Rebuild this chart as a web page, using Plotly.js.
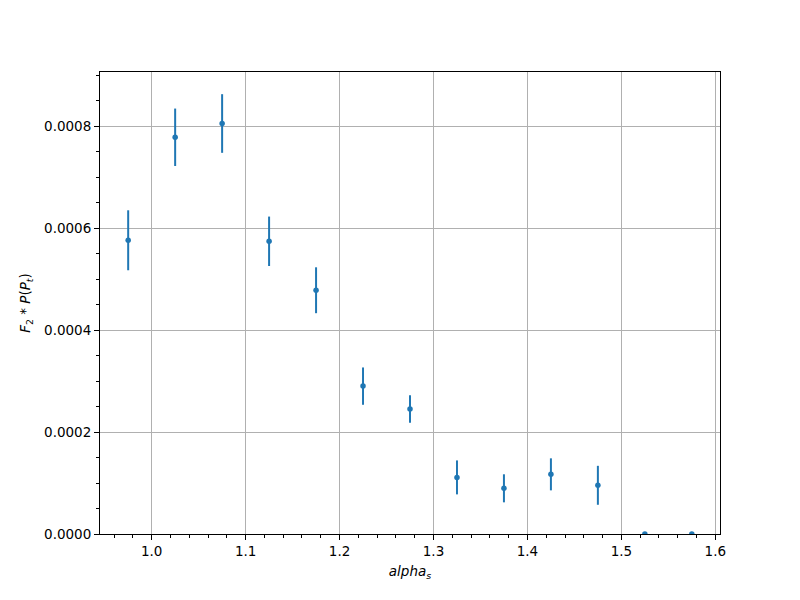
<!DOCTYPE html>
<html>
<head>
<meta charset="utf-8">
<script src="https://cdn.plot.ly/plotly-3.0.1.min.js"></script>
<style>html,body{margin:0;padding:0;background:#fff;}#plot{width:800px;height:600px;}</style>
</head>
<body>
<div id="plot"></div>
<script>
const alphaS = [0.975, 1.025, 1.075, 1.125, 1.175, 1.225, 1.275, 1.325, 1.375, 1.425, 1.475, 1.525, 1.575];
const values = [0.000576, 0.000778, 0.000805, 0.000574, 0.000478, 0.000290, 0.000245, 0.000111, 0.0000896, 0.000117, 0.0000955, 0.0, 0.0];
const errors = [0.0000588, 0.0000563, 0.0000575, 0.0000485, 0.000045, 0.0000366, 0.000027, 0.0000333, 0.0000275, 0.0000314, 0.0000382, 0.0, 0.0];
const xTickVals = [1.0, 1.1, 1.2, 1.3, 1.4, 1.5, 1.6];
const xTickText = ["1.0", "1.1", "1.2", "1.3", "1.4", "1.5", "1.6"];
const yTickVals = [0, 0.0002, 0.0004, 0.0006, 0.0008];
const yTickText = ["0.0000", "0.0002", "0.0004", "0.0006", "0.0008"];

const color = '#1f77b4';
const font = {family: 'DejaVu Sans, sans-serif', size: 13.5, color: '#000'};

const trace = {
  x: alphaS, y: values, type: 'scatter', mode: 'markers',
  marker: {color: color, size: 5.5},
  error_y: {type: 'data', array: errors, visible: true, color: color, thickness: 2, width: 0},
  cliponaxis: true, showlegend: false
};

const axisCommon = {
  showline: true, mirror: true, linecolor: '#000', linewidth: 1,
  ticks: 'outside', ticklen: 5, tickwidth: 1, tickcolor: '#000',
  showgrid: true, gridcolor: '#b0b0b0', gridwidth: 1,
  zeroline: false, tickfont: font, tickmode: 'array'
};

const layout = {
  width: 800, height: 600,
  margin: {l: 100, r: 80, t: 72, b: 66},
  paper_bgcolor: '#fff', plot_bgcolor: '#fff',
  font: font,
  xaxis: Object.assign({}, axisCommon, {
    range: [0.945, 1.605], tickvals: xTickVals, ticktext: xTickText,
    minor: {dtick: 0.02, tick0: 1.0, ticks: 'outside', ticklen: 3, tickcolor: '#000', showgrid: false},
    title: {text: '<i>alpha</i><sub><i>s</i></sub>', font: font, standoff: 8}
  }),
  yaxis: Object.assign({}, axisCommon, {
    range: [0, 0.000906], tickvals: yTickVals, ticktext: yTickText,
    minor: {dtick: 0.00005, tick0: 0, ticks: 'outside', ticklen: 3, tickcolor: '#000', showgrid: false},
    title: {text: '<i>F</i><sub>2</sub> * <i>P</i>(<i>P</i><sub><i>t</i></sub>)', font: font, standoff: 10}
  })
};

Plotly.newPlot('plot', [trace], layout, {displayModeBar: false, staticPlot: true});
</script>
</body>
</html>
